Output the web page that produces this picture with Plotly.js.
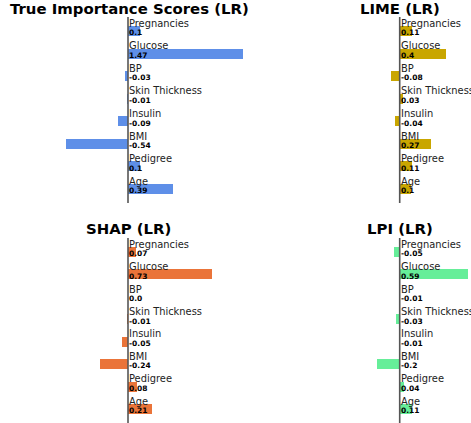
<!DOCTYPE html>
<html>
<head>
<meta charset="utf-8">
<script src="https://cdn.plot.ly/plotly-3.0.1.min.js"></script>
<style>html,body{margin:0;padding:0;background:#fff;}#chart{width:471px;height:423px;}</style>
</head>
<body>
<div id="chart"></div>
<script>
const features = ["Pregnancies", "Glucose", "BP", "Skin Thickness", "Insulin", "BMI", "Pedigree", "Age"];
const trueScores = [0.1, 1.47, -0.03, -0.01, -0.09, -0.54, 0.1, 0.39];
const limeScores = [0.11, 0.4, -0.08, 0.03, -0.04, 0.27, 0.11, 0.1];
const shapScores = [0.07, 0.73, 0.0, -0.01, -0.05, -0.24, 0.08, 0.21];
const lpiScores = [-0.05, 0.59, -0.01, -0.03, -0.01, -0.2, 0.04, 0.11];
const panelTitles = ["True Importance Scores (LR)", "LIME (LR)", "SHAP (LR)", "LPI (LR)"];
const panelColors = ["#5e8fe8", "#c9a600", "#ea7439", "#66ee99"];

const W = 471, H = 423;
const px = v => v / W;
const py = v => 1 - v / H;

const panels = [
  {vals: trueScores, xa: "x", ya: "y", xd: [px(13), px(243)], xr: [-1, 1], yd: [py(203), py(17)], tx: 129, ty: 9},
  {vals: limeScores, xa: "x2", ya: "y2", xd: [px(284.7), 1], xr: [-1, 0.62], yd: [py(203), py(17)], tx: 400, ty: 9},
  {vals: shapScores, xa: "x3", ya: "y3", xd: [px(13), px(243)], xr: [-1, 1], yd: [0, py(238)], tx: 128, ty: 229},
  {vals: lpiScores, xa: "x4", ya: "y4", xd: [px(284.7), 1], xr: [-1, 0.62], yd: [0, py(238)], tx: 400, ty: 229}
];

function fmt(v) {
  if (Number.isInteger(v)) return (v < 0 ? "-" : "") + Math.abs(v).toFixed(1);
  return String(v);
}

const data = [];
const annotations = [];
const shapes = [];
const layout = {
  width: W, height: H,
  margin: {l: 0, r: 0, t: 0, b: 0},
  paper_bgcolor: "#ffffff", plot_bgcolor: "rgba(0,0,0,0)",
  showlegend: false,
  bargap: 0,
  annotations: annotations,
  shapes: shapes
};

panels.forEach((p, i) => {
  data.push({
    type: "bar", orientation: "h",
    x: p.vals, y: features,
    xaxis: p.xa, yaxis: p.ya,
    width: 0.44,
    marker: {color: panelColors[i], line: {width: 0}},
    hoverinfo: "skip"
  });
  const xn = "xaxis" + (i === 0 ? "" : i + 1);
  const yn = "yaxis" + (i === 0 ? "" : i + 1);
  layout[xn] = {domain: p.xd, range: p.xr, anchor: p.ya, showgrid: false, zeroline: false, showticklabels: false, showline: false, ticks: "", fixedrange: true};
  layout[yn] = {domain: p.yd, range: [7.62, -0.62], anchor: p.xa, type: "category", categoryarray: features, showgrid: false, zeroline: false, showticklabels: false, showline: false, ticks: "", fixedrange: true};
  shapes.push({type: "line", xref: p.xa, yref: p.ya + " domain", x0: 0, x1: 0, y0: 0, y1: 1, layer: "above", line: {color: "#555555", width: 1.6}});
  annotations.push({
    xref: "paper", yref: "paper", x: px(p.tx), y: py(p.ty), xanchor: "center", yanchor: "middle",
    text: panelTitles[i], showarrow: false,
    font: {family: "DejaVu Sans", size: 14.9, weight: "bold", color: "#000000"}
  });
  features.forEach((f, k) => {
    annotations.push({
      xref: p.xa, yref: p.ya, x: 0, y: f, xanchor: "left", yanchor: "middle", xshift: -1, yshift: 7.8,
      text: f, showarrow: false,
      font: {family: "DejaVu Sans", size: 9.9, color: "#222222"}
    });
    annotations.push({
      xref: p.xa, yref: p.ya, x: 0, y: f, xanchor: "left", yanchor: "middle", xshift: -1, yshift: -1.8,
      text: fmt(p.vals[k]), showarrow: false,
      font: {family: "DejaVu Sans", size: 7.5, weight: "bold", color: "#000000"}
    });
  });
});

Plotly.newPlot("chart", data, layout, {staticPlot: true, displayModeBar: false});
</script>
</body>
</html>
